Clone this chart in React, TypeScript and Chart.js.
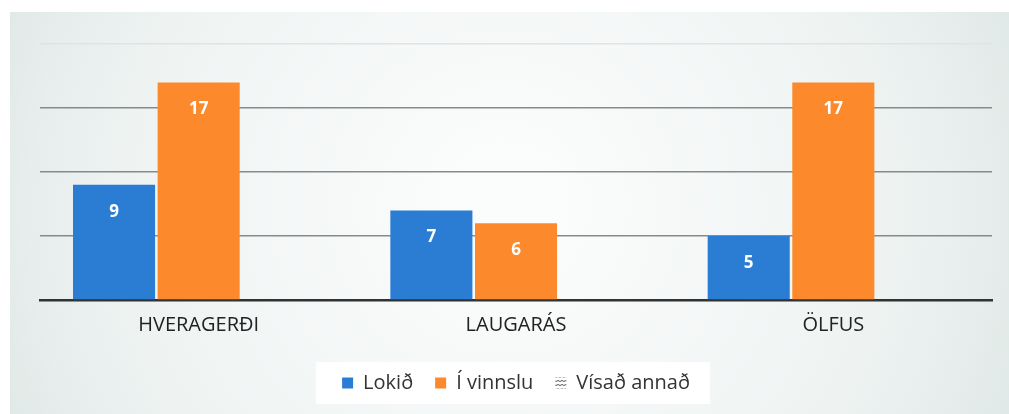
import React, { useEffect, useRef } from "react";
import { Chart, registerables } from "chart.js";

Chart.register(...registerables);

const categories = ["HVERAGERÐI", "LAUGARÁS", "ÖLFUS"];
const lokid = [9, 7, 5];
const iVinnslu = [17, 6, 17];
const visadAnnad = [0, 0, 0];
const seriesNames = ["Lokið", "Í vinnslu", "Vísað annað"];

const BLUE = "#2b7cd3";
const ORANGE = "#fc8a2d";
const FONT = "'Open Sans', sans-serif";

function makePattern(): CanvasPattern | string {
  const c = document.createElement("canvas");
  c.width = 4;
  c.height = 4;
  const x = c.getContext("2d");
  if (!x) return "#888";
  x.fillStyle = "#ffffff";
  x.fillRect(0, 0, 4, 4);
  x.strokeStyle = "#555";
  x.lineWidth = 1;
  x.beginPath();
  x.moveTo(0, 1.5);
  x.lineTo(2, 0.5);
  x.lineTo(4, 1.5);
  x.stroke();
  const p = x.createPattern(c, "repeat");
  return p || "#888";
}

export default function App() {
  const ref = useRef<HTMLCanvasElement>(null);
  useEffect(() => {
    if (!ref.current) return;
    const pattern = makePattern();

    const bgPlugin = {
      id: "bg",
      beforeDraw(chart: any) {
        const { ctx, width, height } = chart;
        ctx.save();
        ctx.fillStyle = "#ffffff";
        ctx.fillRect(0, 0, width, height);
        const g = ctx.createRadialGradient(width / 2, height / 2, 50, width / 2, height / 2, width * 0.6);
        g.addColorStop(0, "#fbfcfc");
        g.addColorStop(0.6, "#eef3f2");
        g.addColorStop(1, "#dbe5e3");
        ctx.fillStyle = g;
        ctx.fillRect(10, 12, width - 10, height - 12);
        const lg = chart.legend;
        if (lg && lg.legendHitBoxes && lg.legendHitBoxes.length) {
          let l = Infinity, r = -Infinity, t = Infinity, b = -Infinity;
          lg.legendHitBoxes.forEach((h: any) => {
            l = Math.min(l, h.left);
            r = Math.max(r, h.left + h.width);
            t = Math.min(t, h.top);
            b = Math.max(b, h.top + h.height);
          });
          ctx.fillStyle = "#ffffff";
          ctx.fillRect(l - 26, t - 11, r - l + 46, b - t + 22);
        }
        ctx.restore();
      },
    };

    const labelPlugin = {
      id: "vals",
      afterDatasetsDraw(chart: any) {
        const { ctx } = chart;
        ctx.save();
        ctx.fillStyle = "#ffffff";
        ctx.font = `bold 17px ${FONT}`;
        ctx.textAlign = "center";
        ctx.textBaseline = "middle";
        [0, 1].forEach((di) => {
          const meta = chart.getDatasetMeta(di);
          meta.data.forEach((el: any, i: number) => {
            const v = chart.data.datasets[di].data[i];
            ctx.fillText(String(v), el.x, el.y + 27);
          });
        });
        ctx.restore();
      },
    };

    const chart = new Chart(ref.current, {
      type: "bar",
      data: {
        labels: categories,
        datasets: [
          { label: seriesNames[0], data: lokid, backgroundColor: BLUE },
          { label: seriesNames[1], data: iVinnslu, backgroundColor: ORANGE },
          { label: seriesNames[2], data: visadAnnad, backgroundColor: pattern as any },
        ],
      },
      options: {
        animation: false,
        responsive: false,
        maintainAspectRatio: false,
        datasets: { bar: { categoryPercentage: 0.8, barPercentage: 0.97 } } as any,
        layout: { padding: { left: 40, right: 17, top: 44, bottom: 11 } },
        scales: {
          x: {
            grid: { display: false },
            border: { display: true, color: "#2f3333", width: 2.5 },
            ticks: { color: "#222", font: { family: FONT, size: 20 }, padding: 5 },
            afterFit: (scale: any) => {
              scale.height += 9;
            },
          },
          y: {
            min: 0,
            max: 20,
            ticks: { display: false, stepSize: 5 },
            border: { display: false },
            grid: {
              drawTicks: false,
              color: (c: any) => (c.tick && c.tick.value === 20 ? "#dfe4e3" : "#858b8b"),
              lineWidth: 1.5,
            },
          },
        },
        plugins: {
          legend: {
            position: "bottom",
            labels: {
              color: "#333",
              font: { family: FONT, size: 20 },
              boxWidth: 11,
              boxHeight: 11,
              padding: 22,
            },
          },
          tooltip: { enabled: false },
        },
      },
      plugins: [bgPlugin, labelPlugin],
    });
    return () => chart.destroy();
  }, []);

  return (
    <div style={{ position: "fixed", left: 0, top: 0, width: 1009, height: 414 }}>
      <canvas ref={ref} width={1009} height={414} style={{ width: 1009, height: 414, display: "block" }} />
    </div>
  );
}
